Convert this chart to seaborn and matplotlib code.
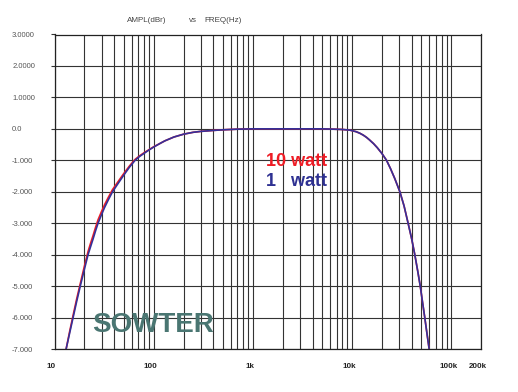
import matplotlib
matplotlib.use("Agg")
import matplotlib.pyplot as plt
import matplotlib.ticker as mticker
import matplotlib.transforms as mtrans
import pandas as pd
import seaborn as sns

# frequency response readings (Hz, dBr)
freq_hz = [13.1, 14.2, 15.4, 16.7, 18.2, 19.9, 21.8, 23.1, 24.5, 25.9, 27.5, 29.6, 32, 35, 38.5,
           43.5, 50, 57, 65, 72, 80, 90, 100, 115, 130, 160, 200, 250, 300, 400, 500, 700,
           1000, 2000, 5000, 6500, 8000,
           9500, 11000, 12000, 13000, 14000, 15000, 16500, 18000, 20000, 22300, 24500, 27000,
           30400, 33500, 36800, 40000, 43000, 46000, 48800, 51500, 54200, 57000, 60000]
db_1w = [-7.0, -6.5, -6.0, -5.5, -5.0, -4.5, -4.0, -3.75, -3.5, -3.25, -3.0, -2.75, -2.5, -2.25,
         -2.0, -1.75, -1.47, -1.22, -1.0, -0.88, -0.78, -0.67, -0.58, -0.47, -0.38, -0.26, -0.17,
         -0.11, -0.08, -0.05, -0.03, -0.01,
         0.0, 0.0, 0.0, -0.01, -0.02,
         -0.04, -0.09, -0.14, -0.2, -0.27, -0.35, -0.47, -0.6, -0.78, -1.0, -1.27, -1.58,
         -2.0, -2.45, -3.0, -3.5, -4.0, -4.52, -5.0, -5.52, -6.0, -6.5, -7.0]
db_10w = [-7.0, -6.45, -5.93, -5.42, -4.92, -4.4, -3.9, -3.64, -3.39, -3.14, -2.89, -2.65, -2.41,
          -2.17, -1.93, -1.69, -1.42, -1.18, -0.97, -0.86, -0.76, -0.66, -0.57, -0.47, -0.38,
          -0.26, -0.17, -0.11, -0.08, -0.05, -0.03, -0.01,
          0.0, 0.0, 0.0, -0.01, -0.02,
          -0.04, -0.09, -0.14, -0.2, -0.27, -0.35, -0.47, -0.6, -0.78, -1.0, -1.27, -1.58,
          -2.0, -2.45, -3.0, -3.5, -4.0, -4.52, -5.0, -5.52, -6.0, -6.5, -7.0]

x_ticks = [10, 100, 1000, 10000, 100000, 200000]
x_labels = ["10", "100", "1k", "10k", "100k", "200k"]
y_ticks = [3, 2, 1, 0, -1, -2, -3, -4, -5, -6, -7]
y_labels = ["3.0000", "2.0000", "1.0000", "0.0", "-1.000", "-2.000", "-3.000",
            "-4.000", "-5.000", "-6.000", "-7.000"]

df = pd.DataFrame({"freq": freq_hz, "w1": db_1w, "w10": db_10w})

sns.set_style("ticks")
plt.rcParams["font.family"] = ["Liberation Sans", "DejaVu Sans"]

fig = plt.figure(figsize=(5.18, 3.92), dpi=100)
ax = fig.add_axes([54.5 / 518, 1 - 349 / 392, (481 - 54.5) / 518, (349 - 34.5) / 392])

sns.lineplot(data=df, x="freq", y="w10", color="#ee1c25", lw=1.2, sort=False, ax=ax)
sns.lineplot(data=df, x="freq", y="w1", color="#34309a", lw=1.2, sort=False, ax=ax)

ax.set_xscale("log")
ax.set_xlim(10, 200000)
ax.set_ylim(-7, 3)

ax.set_xticks(x_ticks)
ax.set_xticklabels(x_labels, fontsize=5.8, fontweight="bold", color="#222222")
ax.xaxis.set_minor_locator(mticker.LogLocator(base=10, subs=range(2, 10), numticks=20))
ax.xaxis.set_minor_formatter(mticker.NullFormatter())
ax.tick_params(axis="x", which="both", length=0, pad=10)
shift = mtrans.ScaledTranslation(-0.03, 0, fig.dpi_scale_trans)
for lab in ax.get_xticklabels():
    lab.set_transform(lab.get_transform() + shift)

ax.set_yticks(y_ticks)
ax.set_yticklabels(y_labels, fontsize=5.5, color="#555555", ha="left")
ax.tick_params(axis="y", length=3, width=0.8, color="#333333", pad=27.5)

ax.grid(which="both", axis="x", color="#333333", lw=0.8)
ax.grid(which="major", axis="y", color="#333333", lw=0.8)
for sp in ax.spines.values():
    sp.set_color("#222222")
    sp.set_linewidth(0.9)

ax.set_xlabel("")
ax.set_ylabel("")

fig.text(147 / 518, 1 - 20 / 392, "AMPL(dBr)", fontsize=5.8, color="#444444", ha="center", va="center")
fig.text(193 / 518, 1 - 20 / 392, "vs", fontsize=5.8, color="#444444", ha="center", va="center")
fig.text(223 / 518, 1 - 20 / 392, "FREQ(Hz)", fontsize=5.8, color="#444444", ha="center", va="center")

ax.text(266 / 518, 1 - 161.5 / 392, "10 watt", transform=fig.transFigure, fontsize=13,
        fontweight="bold", color="#ee1c25", va="center", ha="left")
ax.text(266 / 518, 1 - 181 / 392, "1   watt", transform=fig.transFigure, fontsize=13,
        fontweight="bold", color="#2e3192", va="center", ha="left")
ax.text(92 / 518, 1 - 325 / 392, "SOWTER", transform=fig.transFigure, fontsize=20,
        fontweight="bold", color="#4a7672", va="center", ha="left")

fig.savefig("out.png", dpi=100)
